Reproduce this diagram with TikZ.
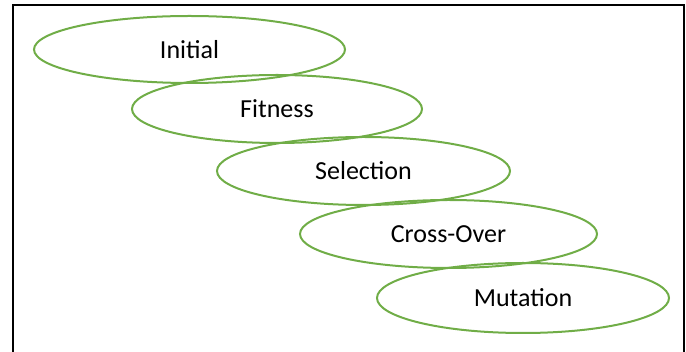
\documentclass[tikz,border=0pt]{standalone}
\usepackage{fontspec}
\setmainfont{Carlito}
\usetikzlibrary{shapes.geometric}
\definecolor{stepgreen}{RGB}{112,173,71}
\begin{document}
\begin{tikzpicture}[x=1pt, y=-1pt]

    \tikzset{stagestyle/.style={draw=stepgreen, line width=2pt, shape=ellipse,
        inner sep=0pt, font=\fontsize{26}{30}\selectfont}}
    \useasboundingbox (0,0) rectangle (686,352);

    % marco
    \draw[line width=2pt] (13,352) -- (13,5) -- (684,5) -- (684,352);

    \node[stagestyle, minimum width=311pt, minimum height=67pt] (s1) at (189.5, 49.5) {\raisebox{-2pt}{Initial}};
    \node[stagestyle, minimum width=290pt, minimum height=68pt] (s2) at (277, 109) {\raisebox{-2pt}{Fitness}};
    \node[stagestyle, minimum width=293pt, minimum height=68pt] (s3) at (363.5, 171) {\raisebox{-2pt}{Selection}};
    \node[stagestyle, minimum width=297pt, minimum height=68pt] (s4) at (448.5, 234) {\raisebox{-2pt}{Cross-Over}};
    \node[stagestyle, minimum width=292pt, minimum height=70pt] (s5) at (523, 298) {\raisebox{-2pt}{Mutation}};

\end{tikzpicture}
\end{document}
